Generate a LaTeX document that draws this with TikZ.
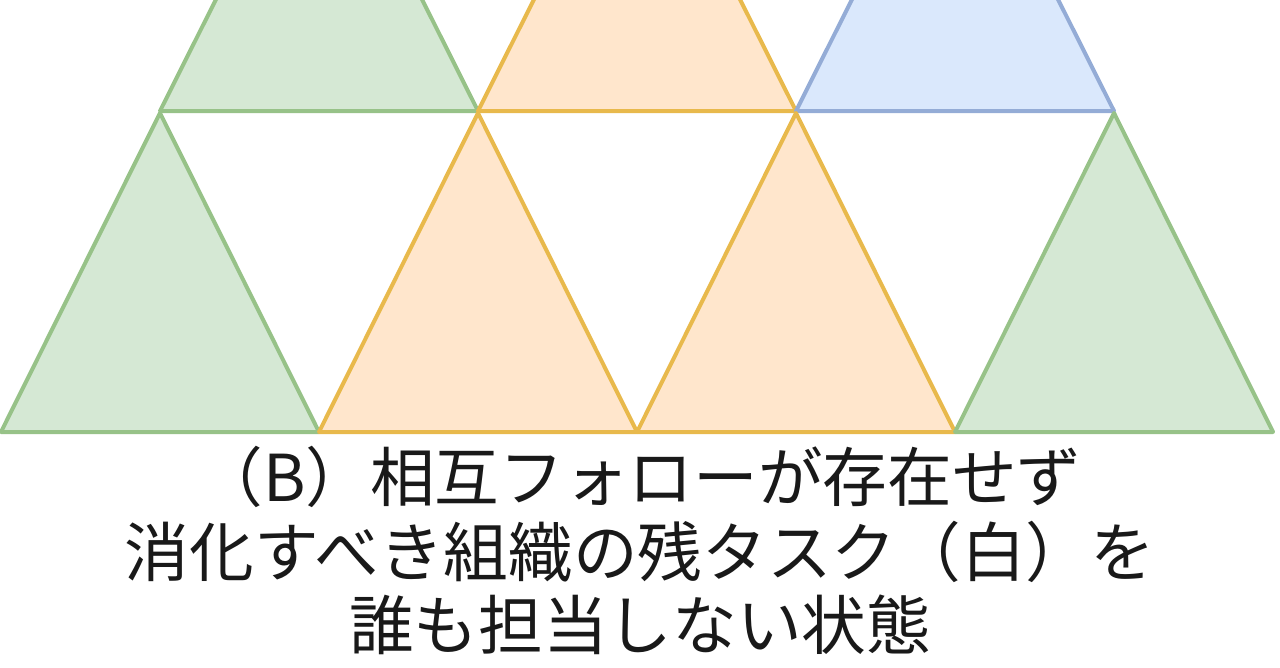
\documentclass[tikz,border=0pt]{standalone}
\usepackage{fontspec}
\newfontfamily\jpfont{Noto Sans CJK JP}
\definecolor{gfill}{HTML}{D5E8D4}
\definecolor{gline}{HTML}{97C288}
\definecolor{ofill}{HTML}{FFE6CC}
\definecolor{oline}{HTML}{E8B94C}
\definecolor{bfill}{HTML}{DAE8FC}
\definecolor{bline}{HTML}{94ACD6}
\tikzset{
  tri/.style={line width=3pt, line join=round},
  greentri/.style={tri, fill=gfill, draw=gline},
  orangetri/.style={tri, fill=ofill, draw=oline},
  bluetri/.style={tri, fill=bfill, draw=bline},
  caption/.style={font=\jpfont\fontsize{48.5}{56}\selectfont, anchor=base, inner sep=0pt, text=black!90}
}
\begin{document}
\begin{tikzpicture}[x=0.75pt,y=-0.75pt]
\useasboundingbox (0,0) rectangle (1280,667);
\begin{scope}
\clip (0,0) rectangle (1280,667);
% top row (cut off at top)
\draw[greentri]  (160,111) -- (319,-206) -- (478,111) -- cycle;
\draw[orangetri] (478,111) -- (637,-206) -- (796,111) -- cycle;
\draw[bluetri]   (796,111) -- (955,-206) -- (1114,111) -- cycle;
% bottom row
\draw[greentri]  (1,432) -- (160,113) -- (319,432) -- cycle;
\draw[orangetri] (319,432) -- (478,113) -- (637,432) -- cycle;
\draw[orangetri] (637,432) -- (796,113) -- (955,432) -- cycle;
\draw[greentri]  (955,432) -- (1114,113) -- (1273,432) -- cycle;
\end{scope}
\node[caption] (l1) at (640,501) {（B）相互フォローが存在せず};
\node[caption] (l2) at (640,576) {消化すべき組織の残タスク（白）を};
\node[caption] (l3) at (640,649) {誰も担当しない状態};
\end{tikzpicture}
\end{document}
